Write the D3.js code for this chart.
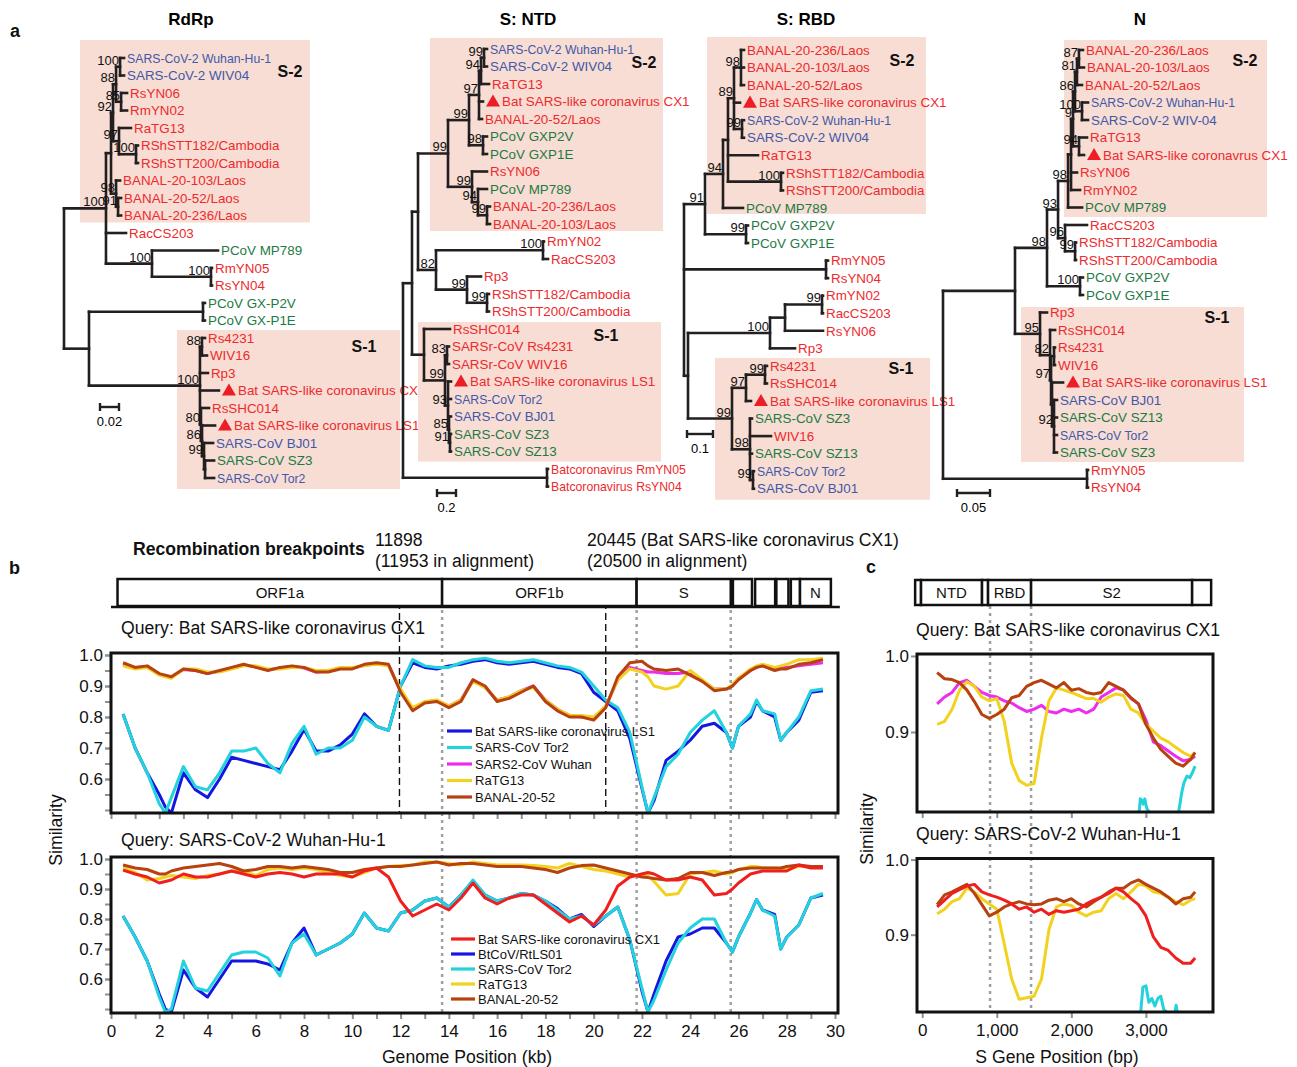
<!DOCTYPE html>
<html>
<head>
<meta charset="utf-8">
<title>Recombination figure</title>
<script src="https://cdn.jsdelivr.net/npm/d3@7"></script>
<style>
  body { margin: 0; background: #ffffff; }
  #fig { display: block; }
</style>
</head>
<body>
<svg id="fig" width="1297" height="1067"></svg>
<script>
/****
 *
 *  a: four ML trees (RdRp, S: NTD, S: RBD, N)
 *  b: whole-genome similarity plots
 *  c: S gene similarity plots
 *
 */

// ---------- tree data (Newick, branch lengths in subst./site) ----------
const rdrpNewick = `
(
 (
  (
   (
    (
     (SARS-CoV-2 Wuhan-Hu-1:0.0042,SARS-CoV-2 WIV04:0.0042)100:0.0042,
     (RsYN06:0.0063,RmYN02:0.0063)85:0.0053
    )88:0.0032,
    (RaTG13:0.0126,(RShSTT182/Cambodia:0.0021,RShSTT200/Cambodia:0.0021)100:0.0179)97:0.0063
   )92:0.0021,
   (BANAL-20-103/Laos:0.0042,(BANAL-20-52/Laos:0.0032,BANAL-20-236/Laos:0.0032)91:0.0021)98:0.0053
  ):0.0053,
  RacCS203:0.0211,
  (PCoV MP789:0.0695,(RmYN05:0.0011,RsYN04:0.0011)100:0.0621)100:0.0484
 )100:0.0442,
 (
  (PCoV GX-P2V:0.0021,PCoV GX-P1E:0.0021):0.12,
  (
   (Rs4231:0.0032,WIV16:0.0053)88:0.0021,
   Rp3:0.0084,
   Bat SARS-like coronavirus CX1:0.02,
   (RsSHC014:0.0084,(Bat SARS-like coronavirus LS1:0.0137,(SARS-CoV BJ01:0.0095,(SARS-CoV SZ3:0.0095,SARS-CoV Tor2:0.0095):0.0011)99:0.0021)86:0.0011)80:0.0011
  )100:0.1168
 ):0.0263
);`;

const ntdNewick = `
(
 (
  (
   (
    (
     (
      ((SARS-CoV-2 Wuhan-Hu-1:0.0316,SARS-CoV-2 WIV04:0.0316)99:0.0316,RaTG13:0.0842)94:0.0211,
      Bat SARS-like coronavirus CX1:0.0421,
      BANAL-20-52/Laos:0.0316
     )97:0.1053,
     (PCoV GXP2V:0.0421,PCoV GXP1E:0.0421)98:0.1474
    )99:0.2211,
    (RsYN06:0.1579,(PCoV MP789:0.0947,(BANAL-20-236/Laos:0.0316,BANAL-20-103/Laos:0.0316)99:0.0947)94:0.0632)99:0.2526
   )99:0.3158,
   (
    (RmYN02:0.0105,RacCS203:0.0526)100:1.1263,
    (Rp3:0.1474,(RShSTT182/Cambodia:0.0211,RShSTT200/Cambodia:0.0211)99:0.2105)99:0.3263
   )82:0.1895
  ):0.0632,
  (
   RsSHC014:0.2737,
   (
    (SARSr-CoV Rs4231:0.0211,SARSr-CoV WIV16:0.0211)83:0.0211,
    (Bat SARS-like coronavirus LS1:0.0316,SARS-CoV Tor2:0.0316,(SARS-CoV BJ01:0.0211,(SARS-CoV SZ3:0.0105,SARS-CoV SZ13:0.0105)91:0.0105)85:0.0105)93:0.0316
   )99:0.2211
  ):0.1263
 ):0.0947,
 (Batcoronavirus RmYN05:0.0105,Batcoronavirus RsYN04:0.0105):1.5158
);`;

const rbdNewick = `
(
 (
  (
   (
    (
     (BANAL-20-236/Laos:0.0115,BANAL-20-103/Laos:0.0115,BANAL-20-52/Laos:0.0115)98:0.0269,
     Bat SARS-like coronavirus CX1:0.0231,
     (SARS-CoV-2 Wuhan-Hu-1:0.0077,SARS-CoV-2 WIV04:0.0077)99:0.0308
    )89:0.0231,
    RaTG13:0.1154,
    (RShSTT182/Cambodia:0.0077,RShSTT200/Cambodia:0.0077)100:0.2038
   ):0.0192,
   PCoV MP789:0.0769
  )94:0.0692,
  (PCoV GXP2V:0.0077,PCoV GXP1E:0.0077)99:0.1577
 )91:0.0808,
 (RmYN05:0.0077,RsYN04:0.0077):0.5462,
 (
  (
   ((RmYN02:0.0038,RacCS203:0.0038)99:0.1423,RsYN06:0.1462):0.0577,
   Rp3:0.0962
  )100:0.3154,
  (
   ((Rs4231:0.0077,RsSHC014:0.0077)99:0.0731,Bat SARS-like coronavirus LS1:0.0192)97:0.0538,
   (SARS-CoV SZ3:0.0077,WIV16:0.0808,SARS-CoV SZ13:0.0077,(SARS-CoV Tor2:0.0038,SARS-CoV BJ01:0.0038)99:0.0115)98:0.0692
  )99:0.1692
 ):0.0154
);`;

const nNewick = `
(
 (
  (
   (
    (
     (
      (
       (
        ((BANAL-20-236/Laos:0.0061,BANAL-20-103/Laos:0.0076)87:0.003,BANAL-20-52/Laos:0.0076)81:0.003,
        (SARS-CoV-2 Wuhan-Hu-1:0.0091,SARS-CoV-2 WIV-04:0.0091)100:0.0106
       )86:0.003,
       (RaTG13:0.0121,Bat SARS-like coronavrus CX1:0.0076)94:0.0091
      )9:0.003,
      RsYN06:0.0091,
      RmYN02:0.0136
     ):0.0045,
     PCoV MP789:0.0212
    )98:0.0152,
    (RacCS203:0.0333,(RShSTT182/Cambodia:0.0015,RShSTT200/Cambodia:0.0015)99:0.0152)96:0.0106
   )93:0.0167,
   (PCoV GXP2V:0.0045,PCoV GXP1E:0.0045)100:0.05
  )98:0.0485,
  (
   Rp3:0.0106,
   (
    RsSHC014:0.0076,
    (
     (Rs4231:0.0015,WIV16:0.0015):0.0045,
     (Bat SARS-like coronavirus LS1:0.0167,(SARS-CoV BJ01:0.0045,SARS-CoV SZ13:0.0045,SARS-CoV Tor2:0.0045,SARS-CoV SZ3:0.0045)92:0.003):0.0015
    )97:0.0015
   )82:0.0152
  )95:0.0379
 ):0.1091,
 (RmYN05:0.0015,RsYN04:0.0015):0.2182
);`;

// taxa colouring
const blueTaxa = ["SARS-CoV-2 Wuhan-Hu-1", "SARS-CoV-2 WIV04", "SARS-CoV-2 WIV-04", "SARS-CoV BJ01", "SARS-CoV Tor2"];
const greenTaxa = ["PCoV MP789", "PCoV GX-P2V", "PCoV GX-P1E", "PCoV GXP2V", "PCoV GXP1E", "SARS-CoV SZ3", "SARS-CoV SZ13"];
const markedTaxa = ["Bat SARS-like coronavirus CX1", "Bat SARS-like coronavrus CX1", "Bat SARS-like coronavirus LS1"];
// labels typeset tighter in the original
const condensedTaxa = ["SARS-CoV-2 Wuhan-Hu-1", "SARS-CoV Tor2", "Batcoronavirus RmYN05", "Batcoronavirus RsYN04"];

// ---------- panel b data (genome position in kb) ----------
const genomePosKb = [
  0.5, 1, 1.5, 2, 2.25, 2.5, 3, 3.5,
  4, 4.5, 5, 5.5, 6, 6.5, 7, 7.5,
  8, 8.5, 9, 9.5, 10, 10.5, 11, 11.5,
  12, 12.5, 13, 13.5, 14, 14.5, 15, 15.5,
  16, 16.5, 17, 17.5, 18, 18.5, 19, 19.5,
  20, 20.5, 21, 21.5, 22, 22.25, 22.5, 23,
  23.5, 24, 24.5, 25, 25.5, 25.75, 26, 26.5,
  26.75, 27, 27.5, 27.75, 28, 28.5, 29, 29.5];

// query: Bat SARS-like coronavirus CX1
const cx1q_LS1 = [
  .81, .70, .62, .55, .51, .49, .62, .565,
  .54, .60, .67, .66, .65, .64, .63, .69,
  .76, .69, .69, .71, .745, .81, .77, .757,
  .90, .975, .96, .955, .965, .97, .98, .985,
  .975, .97, .975, .98, .97, .96, .955, .94,
  .88, .85, .82, .73, .57, .49, .53, .66,
  .69, .725, .77, .78, .75, .70, .77, .80,
  .85, .82, .80, .725, .75, .79, .88, .885];
const cx1q_Tor2 = [
  .81, .70, .62, .52, .49, .54, .64, .575,
  .565, .62, .69, .69, .70, .65, .62, .715,
  .77, .68, .70, .70, .725, .80, .77, .757,
  .90, .985, .965, .96, .96, .975, .985, .99,
  .98, .975, .98, .985, .975, .965, .96, .945,
  .90, .855, .83, .75, .575, .49, .54, .64,
  .68, .75, .79, .82, .75, .70, .77, .81,
  .855, .82, .81, .725, .75, .80, .885, .89];
const cx1q_Wuhan = [
  .97, .96, .962, .938, .932, .928, .953, .95,
  .94, .948, .958, .968, .962, .952, .958, .963,
  .958, .945, .948, .957, .957, .967, .972, .967,
  .885, .825, .848, .853, .835, .855, .92, .895,
  .855, .865, .885, .90, .855, .825, .805, .80,
  .795, .835, .92, .96, .95, .945, .945, .94,
  .94, .945, .915, .89, .89, .90, .925, .95,
  .96, .965, .955, .96, .96, .965, .97, .975];
const cx1q_RaTG13 = [
  .965, .955, .96, .935, .93, .925, .955, .955,
  .945, .945, .955, .965, .965, .955, .955, .96,
  .96, .95, .95, .96, .96, .965, .97, .965,
  .89, .83, .85, .855, .835, .855, .915, .895,
  .855, .865, .885, .895, .855, .825, .805, .805,
  .80, .835, .92, .955, .945, .93, .90, .89,
  .90, .95, .92, .89, .89, .905, .925, .955,
  .965, .97, .96, .965, .97, .985, .985, .99];
const cx1q_BANAL52 = [
  .975, .96, .965, .94, .935, .93, .955, .95,
  .94, .95, .96, .97, .96, .95, .96, .965,
  .96, .945, .945, .955, .955, .97, .975, .97,
  .88, .82, .845, .85, .83, .85, .92, .90,
  .85, .86, .88, .90, .85, .82, .80, .80,
  .79, .83, .93, .975, .98, .965, .955, .95,
  .955, .935, .915, .885, .89, .90, .92, .95,
  .96, .965, .95, .955, .955, .97, .975, .985];

// query: SARS-CoV-2 Wuhan-Hu-1
const wuhq_CX1 = [
  .963, .95, .94, .92, .925, .93, .95, .94,
  .94, .95, .96, .95, .94, .95, .955, .95,
  .94, .95, .95, .95, .94, .96, .97, .94,
  .86, .81, .83, .85, .83, .87, .92, .87,
  .85, .87, .88, .88, .85, .82, .79, .81,
  .78, .83, .91, .94, .95, .955, .95, .93,
  .93, .94, .93, .88, .885, .90, .92, .95,
  .955, .96, .96, .96, .96, .98, .97, .97];
const wuhq_RtLS01 = [
  .81, .74, .66, .55, .50, .49, .63, .57,
  .54, .60, .66, .66, .66, .65, .63, .72,
  .77, .68, .70, .72, .75, .82, .77, .76,
  .82, .83, .86, .87, .84, .88, .925, .88,
  .86, .87, .885, .88, .86, .835, .80, .815,
  .775, .81, .84, .73, .56, .49, .55, .66,
  .74, .75, .77, .77, .72, .69, .74, .82,
  .865, .83, .815, .70, .74, .78, .87, .88];
const wuhq_Tor2 = [
  .81, .74, .66, .54, .49, .50, .66, .57,
  .56, .62, .68, .69, .69, .67, .61, .72,
  .75, .68, .70, .72, .75, .82, .77, .76,
  .82, .83, .86, .87, .84, .88, .93, .88,
  .86, .87, .885, .88, .86, .83, .80, .81,
  .78, .81, .84, .73, .57, .49, .53, .63,
  .72, .77, .80, .80, .72, .69, .74, .82,
  .865, .83, .81, .70, .74, .78, .87, .885];
const wuhq_RaTG13 = [
  .97, .955, .93, .935, .94, .945, .94, .935,
  .945, .95, .96, .96, .945, .965, .97, .965,
  .97, .965, .955, .945, .94, .955, .97, .975,
  .978, .98, .99, .99, .985, .98, .99, .985,
  .98, .98, .98, .978, .975, .97, .985, .975,
  .965, .96, .95, .94, .95, .945, .925, .88,
  .885, .95, .955, .96, .95, .955, .965, .975,
  .975, .97, .97, .968, .965, .975, .975, .975];
const wuhq_BANAL52 = [
  .98, .97, .965, .95, .95, .96, .97, .975,
  .98, .985, .975, .96, .965, .975, .975, .97,
  .975, .97, .965, .955, .955, .965, .97, .975,
  .975, .98, .985, .99, .98, .985, .985, .98,
  .975, .975, .975, .97, .965, .955, .97, .978,
  .98, .97, .96, .95, .94, .938, .935, .93,
  .935, .955, .955, .945, .955, .958, .965, .97,
  .97, .97, .97, .97, .975, .98, .975, .975];

// genome map, breakpoints (alignment positions), region guides
const genomeGenes = ["ORF1a", "ORF1b", "S", "", "", "", "", "N"];
const genomeGeneStart = [0.27, 13.72, 21.78, 25.77, 26.69, 27.57, 28.17, 28.55];
const genomeGeneEnd = [13.72, 21.78, 25.68, 26.56, 27.52, 28.07, 28.55, 29.83];
const breakpointsKb = [11.953, 20.5];
const guideKb = [13.72, 21.78, 25.68];
const genomeTickLabels = [0, 2, 4, 6, 8, 10, 12, 14, 16, 18, 20, 22, 24, 26, 28, 30];
const simTickLabels = [0.6, 0.7, 0.8, 0.9, 1.0];

// ---------- panel c data (S gene position in bp) ----------
const sPosBp = [
  200, 300, 400, 500, 600, 700, 800, 900,
  1000, 1100, 1200, 1300, 1400, 1500, 1600, 1700,
  1800, 1900, 2000, 2100, 2200, 2300, 2400, 2500,
  2600, 2700, 2800, 2900, 3000, 3100, 3200, 3300,
  3400, 3500, 3600, 3660];
const sCx1q_Wuhan = [
  .937, .946, .952, .965, .968, .96, .952, .948,
  .946, .941, .938, .932, .927, .93, .935, .927,
  .925, .93, .927, .93, .925, .93, .946, .952,
  .958, .955, .944, .937, .916, .887, .882, .875,
  .868, .862, .864, .868];
const sCx1q_RaTG13 = [
  .91, .914, .93, .955, .966, .96, .946, .941,
  .944, .914, .859, .836, .83, .832, .892, .941,
  .958, .955, .952, .948, .944, .944, .939, .946,
  .95, .948, .93, .925, .91, .901, .892, .887,
  .88, .873, .868, .873];
const sCx1q_BANAL52 = [
  .978, .97, .969, .965, .955, .94, .923, .918,
  .923, .93, .945, .948, .96, .965, .968, .963,
  .958, .965, .955, .957, .952, .95, .952, .965,
  .96, .955, .945, .937, .91, .892, .877, .868,
  .859, .855, .864, .873];
const sWuhq_CX1 = [
  .937, .946, .955, .96, .965, .967, .957, .953,
  .95, .946, .941, .934, .937, .93, .934, .927,
  .932, .93, .932, .934, .941, .946, .95, .955,
  .962, .957, .948, .94, .925, .897, .883, .879,
  .869, .862, .862, .869];
const sWuhq_RaTG13 = [
  .928, .934, .944, .948, .962, .957, .948, .941,
  .934, .888, .841, .814, .816, .818, .841, .907,
  .937, .941, .939, .93, .925, .93, .932, .948,
  .955, .948, .957, .967, .965, .957, .955, .95,
  .944, .94, .946, .948];
const sWuhq_BANAL52 = [
  .94, .953, .957, .962, .967, .955, .94, .925,
  .93, .937, .941, .944, .941, .94, .941, .946,
  .948, .944, .948, .941, .937, .944, .95, .957,
  .962, .962, .969, .973, .967, .962, .957, .95,
  .941, .948, .95, .957];
// Tor2 only enters the visible range in short stretches (null = off scale)
const sCx1q_Tor2Pos = [2910, 2925, 2945, 2965, 2985, 3010, 3040, 3200, 3440, 3480, 3510, 3550, 3590, 3630, 3660];
const sCx1q_Tor2 = [.795, .812, .81, .805, .812, .80, .795, null, .795, .82, .833, .842, .84, .848, .855];
const sWuhq_Tor2Pos = [2930, 2960, 3000, 3040, 3080, 3120, 3160, 3200, 3240, 3280, 3340, 3390, 3405, 3420];
const sWuhq_Tor2 = [.797, .83, .832, .81, .815, .805, .815, .818, .80, .797, null, .797, .806, .797];

const sDomains = ["", "NTD", "", "RBD", "S2", ""];
const sDomainStart = [-95, -16, 802, 883, 1460, 3620];
const sDomainEnd = [-16, 802, 883, 1460, 3620, 3875];
const guideBp = [910, 1460];
const sTickLabels = [0, 1000, 2000, 3000];
const sSimTickLabels = [0.9, 1.0];

const legendQueryCX1 = ["Bat SARS-like coronavirus LS1", "SARS-CoV Tor2", "SARS2-CoV Wuhan", "RaTG13", "BANAL-20-52"];
const legendQueryWuhan = ["Bat SARS-like coronavirus CX1", "BtCoV/RtLS01", "SARS-CoV Tor2", "RaTG13", "BANAL-20-52"];

// ---------- styles ----------
const FONT = "Arial, 'Liberation Sans', Helvetica, sans-serif";
const INK = "#231f20";
const TAXON_RED = "#ee2a2e", TAXON_BLUE = "#4358a8", TAXON_GREEN = "#1d7a45";
const COL = { ls1: "#1616e2", tor2: "#22d2dc", wuhan: "#ee2cee", ratg13: "#f2d21e", banal: "#b7410f", cx1: "#f01e1e" };
const BIG = 17.6;   // running text in b and c

const svg = d3.select("#fig").attr("font-family", FONT);
svg.append("rect").attr("width", 1297).attr("height", 1067).attr("fill", "#fff");

/**
 * minimal Newick reader: names may contain spaces, '/', '-'
 */
function parseNewick(str){
  let s = str.replace(/\s*\n\s*/g, "");
  let pos = 0;
  function readNode(){
    let node = {};
    if (s[pos] === "("){
      node.children = [];
      pos++;
      node.children.push(readNode());
      while (s[pos] === ","){ pos++; node.children.push(readNode()); }
      pos++; // closing bracket
    }
    let label = "";
    while (pos < s.length && ":,();".indexOf(s[pos]) < 0) label += s[pos++];
    node.name = label;
    node.len = 0;
    if (s[pos] === ":"){
      pos++;
      let num = "";
      while (pos < s.length && ",();".indexOf(s[pos]) < 0) num += s[pos++];
      node.len = +num;
    }
    return node;
  }
  return readNode();
}

function taxonColour(name){
  if (blueTaxa.includes(name)) return TAXON_BLUE;
  if (greenTaxa.includes(name)) return TAXON_GREEN;
  return TAXON_RED;
}

/**
 * rectangular phylogram
 */
function drawTree(cfg){

  let root = d3.hierarchy(parseNewick(cfg.newick));
  root.eachBefore(d => { d.dist = d.parent ? d.parent.dist + d.data.len : 0; });
  let leaves = root.leaves();

  let y = d3.scalePoint()
            .domain(leaves.map(d => d.data.name))
            .range([cfg.y0, cfg.y0 + cfg.step * (leaves.length - 1)]);
  let x = d3.scaleLinear()
            .domain([0, 1])
            .range([cfg.rootX, cfg.rootX + cfg.pxPerUnit]);

  root.eachAfter(d => {
    d.px = x(d.dist);
    d.py = d.children ? (d.children[0].py + d.children[d.children.length - 1].py) / 2
                      : y(d.data.name);
  });

  let g = svg.append("g");

  // shaded clade boxes
  cfg.boxes.forEach(b => {
    let top = y(b.from) - b.padTop, bottom = y(b.to) + b.padBottom;
    g.append("rect")
      .attr("x", b.x0).attr("y", top)
      .attr("width", b.x1 - b.x0).attr("height", bottom - top)
      .attr("fill", "#f7ddd3");
    g.append("text")
      .attr("x", b.lx).attr("y", b.ly)
      .attr("text-anchor", "middle")
      .attr("font-size", 16).attr("font-weight", "bold")
      .attr("fill", "#111")
      .text(b.label);
  });

  // title
  g.append("text")
    .attr("x", cfg.titleX).attr("y", 25)
    .attr("text-anchor", "middle")
    .attr("font-size", 17).attr("font-weight", "bold")
    .text(cfg.title);

  let branches = g.append("g")
                  .attr("stroke", INK)
                  .attr("stroke-width", 2.6)
                  .attr("stroke-linecap", "square");

  // horizontal branches
  branches.selectAll("line.h")
    .data(root.descendants().filter(d => d.parent))
    .join("line")
    .attr("x1", d => d.parent.px).attr("x2", d => d.px)
    .attr("y1", d => d.py).attr("y2", d => d.py);

  // vertical connectors
  branches.selectAll("line.v")
    .data(root.descendants().filter(d => d.children))
    .join("line")
    .attr("x1", d => d.px).attr("x2", d => d.px)
    .attr("y1", d => d.children[0].py)
    .attr("y2", d => d.children[d.children.length - 1].py);

  // bootstrap values
  g.append("g")
    .selectAll("text")
    .data(root.descendants().filter(d => d.children && d.parent && d.data.name !== ""))
    .join("text")
    .attr("x", d => d.px - 1)
    .attr("y", d => d.py - 2)
    .attr("text-anchor", "end")
    .attr("font-size", 13)
    .attr("fill", "#111")
    .text(d => d.data.name);

  // tip labels
  let tips = g.append("g")
              .selectAll("g")
              .data(leaves)
              .join("g")
              .attr("transform", d => "translate(" + d.px + "," + d.py + ")");

  tips.filter(d => markedTaxa.includes(d.data.name))
    .append("path")
    .attr("d", d3.symbol(d3.symbolTriangle, 85))
    .attr("transform", "translate(10,1)")
    .attr("fill", "#ee1c24");

  tips.append("text")
    .attr("x", d => markedTaxa.includes(d.data.name) ? 19 : 3)
    .attr("y", 4.7)
    .attr("font-size", 13.4)
    .attr("fill", d => taxonColour(d.data.name))
    .text(d => d.data.name)
    .filter(d => condensedTaxa.includes(d.data.name))
    .each(function(){
      let w = this.getComputedTextLength();
      d3.select(this).attr("textLength", w * 0.915).attr("lengthAdjust", "spacingAndGlyphs");
    });

  // scale bar
  let sb = cfg.scaleBar;
  let sx = d3.scaleLinear().domain([0, 1]).range([sb.x, sb.x + cfg.pxPerUnit]);
  let bar = g.append("g").attr("stroke", INK).attr("stroke-width", 2.4);
  bar.append("line").attr("x1", sx(0)).attr("x2", sx(sb.value)).attr("y1", sb.y).attr("y2", sb.y);
  bar.append("line").attr("x1", sx(0)).attr("x2", sx(0)).attr("y1", sb.y - 4).attr("y2", sb.y + 4);
  bar.append("line").attr("x1", sx(sb.value)).attr("x2", sx(sb.value)).attr("y1", sb.y - 4).attr("y2", sb.y + 4);
  g.append("text")
    .attr("x", sx(sb.value / 2)).attr("y", sb.y + 19)
    .attr("text-anchor", "middle").attr("font-size", 13)
    .text(sb.value);

} // end of drawTree

/**
 * similarity plot: frame, clipped curves
 */
function drawSimplot(p){

  let g = svg.append("g");
  let f = p.frame;

  g.append("clipPath").attr("id", p.clipId)
    .append("rect")
    .attr("x", f.x0).attr("y", f.y0)
    .attr("width", f.x1 - f.x0).attr("height", f.y1 - f.y0);

  let line = d3.line()
               .defined(d => d.v != null)
               .x(d => p.x(d.pos))
               .y(d => p.y(d.v));

  let curves = g.append("g").attr("clip-path", "url(#" + p.clipId + ")");
  p.series.forEach(s => {
    let pos = s.pos || p.pos;
    curves.append("path")
      .datum(pos.map((q, i) => ({pos: q, v: s.values[i]})))
      .attr("fill", "none")
      .attr("stroke", s.color)
      .attr("stroke-width", 3)
      .attr("stroke-linejoin", "round")
      .attr("d", line);
  });

  // y axis: minor grey ticks, then labelled ticks
  if (p.yMinor){
    let ym = g.append("g")
              .attr("transform", "translate(" + f.x0 + ",0)")
              .call(d3.axisLeft(p.y).tickValues(p.yMinor).tickSize(6).tickFormat(""));
    ym.select(".domain").remove();
    ym.selectAll(".tick line").attr("stroke", "#8f8f8f").attr("stroke-width", 2);
  }
  let ya = g.append("g")
            .attr("transform", "translate(" + f.x0 + ",0)")
            .call(d3.axisLeft(p.y).tickValues(p.yTicks).tickSize(6).tickPadding(2).tickFormat(d3.format(".1f")))
            .attr("font-size", 17).attr("font-family", FONT);
  ya.select(".domain").remove();
  ya.selectAll(".tick line").attr("stroke", "#8f8f8f").attr("stroke-width", 2);
  ya.selectAll(".tick text").attr("fill", "#111");

  // x axis
  let xa = g.append("g")
            .attr("transform", "translate(0," + f.y1 + ")")
            .call(d3.axisBottom(p.x).tickValues(p.xTicks).tickSize(6).tickPadding(6).tickFormat(p.xFormat))
            .attr("font-size", 17).attr("font-family", FONT);
  xa.select(".domain").remove();
  xa.selectAll(".tick line").attr("stroke", "#8f8f8f").attr("stroke-width", 2);
  xa.selectAll(".tick text").attr("fill", "#111");

  // frame
  g.append("rect")
    .attr("x", f.x0).attr("y", f.y0)
    .attr("width", f.x1 - f.x0).attr("height", f.y1 - f.y0)
    .attr("fill", "none").attr("stroke", "#111").attr("stroke-width", 3);

  // query caption
  g.append("text")
    .attr("x", p.caption.x).attr("y", p.caption.y)
    .attr("font-size", BIG).attr("fill", "#111")
    .text(p.caption.text);

} // end of drawSimplot

function drawLegend(names, colours, lg){
  let g = svg.append("g");
  let yy = d3.scalePoint().domain(names).range([lg.y0, lg.y0 + lg.dy * (names.length - 1)]);
  names.forEach((n, i) => {
    g.append("line")
      .attr("x1", lg.x0).attr("x2", lg.x1)
      .attr("y1", yy(n)).attr("y2", yy(n))
      .attr("stroke", colours[i]).attr("stroke-width", 3.2);
    g.append("text")
      .attr("x", lg.x1 + 3).attr("y", yy(n) + 4.5)
      .attr("font-size", 13).attr("fill", "#111")
      .text(n);
  });
}

/*** ****************** *****/
/*   a: phylogenies          */
/***************************/
drawTree({
  newick: rdrpNewick, title: "RdRp", titleX: 191,
  rootX: 64, pxPerUnit: 950, y0: 58, step: 17.5,
  boxes: [
    {from: "SARS-CoV-2 Wuhan-Hu-1", to: "BANAL-20-236/Laos", x0: 80, x1: 310, padTop: 18, padBottom: 7, label: "S-2", lx: 290, ly: 77},
    {from: "Rs4231", to: "SARS-CoV Tor2", x0: 177, x1: 400, padTop: 8, padBottom: 11, label: "S-1", lx: 364, ly: 352}
  ],
  scaleBar: {value: 0.02, x: 100, y: 407}
});

drawTree({
  newick: ntdNewick, title: "S: NTD", titleX: 528,
  rootX: 403, pxPerUnit: 95, y0: 49, step: 17.5,
  boxes: [
    {from: "SARS-CoV-2 Wuhan-Hu-1", to: "BANAL-20-103/Laos", x0: 430, x1: 663, padTop: 11, padBottom: 7, label: "S-2", lx: 644, ly: 68},
    {from: "RsSHC014", to: "SARS-CoV SZ13", x0: 418, x1: 661, padTop: 7, padBottom: 10, label: "S-1", lx: 606, ly: 341}
  ],
  scaleBar: {value: 0.2, x: 437, y: 493}
});

drawTree({
  newick: rbdNewick, title: "S: RBD", titleX: 806,
  rootX: 684, pxPerUnit: 260, y0: 50, step: 17.55,
  boxes: [
    {from: "BANAL-20-236/Laos", to: "PCoV MP789", x0: 707, x1: 926, padTop: 13, padBottom: 6, label: "S-2", lx: 902, ly: 66},
    {from: "Rs4231", to: "SARS-CoV BJ01", x0: 715, x1: 930, padTop: 8, padBottom: 11, label: "S-1", lx: 901, ly: 374}
  ],
  scaleBar: {value: 0.1, x: 687, y: 434}
});

drawTree({
  newick: nNewick, title: "N", titleX: 1140,
  rootX: 943, pxPerUnit: 660, y0: 50, step: 17.5,
  boxes: [
    {from: "BANAL-20-236/Laos", to: "PCoV MP789", x0: 1064, x1: 1267, padTop: 10, padBottom: 9.5, label: "S-2", lx: 1245, ly: 66},
    {from: "Rp3", to: "SARS-CoV SZ3", x0: 1021, x1: 1244, padTop: 5.5, padBottom: 9.5, label: "S-1", lx: 1217, ly: 323}
  ],
  scaleBar: {value: 0.05, x: 957, y: 493}
});

/*** ****************** *****/
/*   b: genome similarity    */
/***************************/
const xGenome = d3.scaleLinear().domain([0, 30]).range([111, 835]);
const yB1 = d3.scaleLinear().domain([0.4903, 1.0065]).range([813, 653]);
const yB2 = d3.scaleLinear().domain([0.4867, 1.0067]).range([1013, 857]);

// region guides (grey dotted) and breakpoints (black dashed)
svg.append("g").selectAll("line")
  .data(guideKb).join("line")
  .attr("x1", d => xGenome(d)).attr("x2", d => xGenome(d))
  .attr("y1", 610).attr("y2", 1013)
  .attr("stroke", "#a0a0a0").attr("stroke-width", 2.5).attr("stroke-dasharray", "3,4");
svg.append("g").selectAll("line")
  .data(breakpointsKb).join("line")
  .attr("x1", d => xGenome(d)).attr("x2", d => xGenome(d))
  .attr("y1", 580).attr("y2", 813)
  .attr("stroke", "#111").attr("stroke-width", 1.4).attr("stroke-dasharray", "7,4");

// genome map
let gmap = svg.append("g");
gmap.append("line")
  .attr("x1", xGenome(0)).attr("x2", xGenome(30.2))
  .attr("y1", 607).attr("y2", 607)
  .attr("stroke", "#111").attr("stroke-width", 2.5);
genomeGenes.forEach((n, i) => {
  gmap.append("rect")
    .attr("x", xGenome(genomeGeneStart[i])).attr("y", 579)
    .attr("width", xGenome(genomeGeneEnd[i]) - xGenome(genomeGeneStart[i])).attr("height", 27)
    .attr("fill", "#fff").attr("stroke", "#111").attr("stroke-width", 2.5);
  if (n) gmap.append("text")
    .attr("x", xGenome((genomeGeneStart[i] + genomeGeneEnd[i]) / 2)).attr("y", 598)
    .attr("text-anchor", "middle").attr("font-size", 15).attr("fill", "#111")
    .text(n);
});

drawSimplot({
  clipId: "clipB1", x: xGenome, y: yB1, pos: genomePosKb,
  frame: {x0: 111, x1: 838, y0: 653, y1: 813},
  series: [
    {values: cx1q_LS1, color: COL.ls1},
    {values: cx1q_Tor2, color: COL.tor2},
    {values: cx1q_Wuhan, color: COL.wuhan},
    {values: cx1q_RaTG13, color: COL.ratg13},
    {values: cx1q_BANAL52, color: COL.banal}
  ],
  yTicks: simTickLabels, yMinor: yB1.ticks(10),
  xTicks: xGenome.ticks(30), xFormat: () => "",
  caption: {x: 121, y: 634, text: "Query: Bat SARS-like coronavirus CX1"}
});

drawSimplot({
  clipId: "clipB2", x: xGenome, y: yB2, pos: genomePosKb,
  frame: {x0: 111, x1: 838, y0: 857, y1: 1013},
  series: [
    {values: wuhq_RtLS01, color: COL.ls1},
    {values: wuhq_Tor2, color: COL.tor2},
    {values: wuhq_RaTG13, color: COL.ratg13},
    {values: wuhq_BANAL52, color: COL.banal},
    {values: wuhq_CX1, color: COL.cx1}
  ],
  yTicks: simTickLabels, yMinor: yB2.ticks(10),
  xTicks: xGenome.ticks(30), xFormat: d => genomeTickLabels.includes(d) ? d : "",
  caption: {x: 121, y: 846, text: "Query: SARS-CoV-2 Wuhan-Hu-1"}
});

drawLegend(legendQueryCX1, [COL.ls1, COL.tor2, COL.wuhan, COL.ratg13, COL.banal], {x0: 447, x1: 472, y0: 731, dy: 16.5});
drawLegend(legendQueryWuhan, [COL.cx1, COL.ls1, COL.tor2, COL.ratg13, COL.banal], {x0: 451, x1: 475, y0: 939, dy: 15});

/*** ****************** *****/
/*   c: S gene similarity    */
/***************************/
const xSgene = d3.scaleLinear().domain([-70, 3900]).range([917, 1213]);
const yC1 = d3.scaleLinear().domain([0.7947, 1.0026]).range([812, 654]);
const yC2 = d3.scaleLinear().domain([0.797, 1.0015]).range([1012, 858.5]);

svg.append("g").selectAll("line")
  .data(guideBp).join("line")
  .attr("x1", d => xSgene(d)).attr("x2", d => xSgene(d))
  .attr("y1", 606).attr("y2", 1012)
  .attr("stroke", "#a0a0a0").attr("stroke-width", 2.5).attr("stroke-dasharray", "3,4");

let smap = svg.append("g");
sDomains.forEach((n, i) => {
  smap.append("rect")
    .attr("x", xSgene(sDomainStart[i])).attr("y", 580)
    .attr("width", xSgene(sDomainEnd[i]) - xSgene(sDomainStart[i])).attr("height", 25)
    .attr("fill", "#fff").attr("stroke", "#111").attr("stroke-width", 2.5);
  if (n) smap.append("text")
    .attr("x", xSgene((sDomainStart[i] + sDomainEnd[i]) / 2)).attr("y", 598)
    .attr("text-anchor", "middle").attr("font-size", 15).attr("fill", "#111")
    .text(n);
});

drawSimplot({
  clipId: "clipC1", x: xSgene, y: yC1, pos: sPosBp,
  frame: {x0: 917, x1: 1213, y0: 654, y1: 812},
  series: [
    {values: sCx1q_Wuhan, color: COL.wuhan},
    {values: sCx1q_RaTG13, color: COL.ratg13},
    {values: sCx1q_BANAL52, color: COL.banal},
    {values: sCx1q_Tor2, pos: sCx1q_Tor2Pos, color: COL.tor2}
  ],
  yTicks: sSimTickLabels,
  xTicks: sTickLabels, xFormat: () => "",
  caption: {x: 916, y: 636, text: "Query: Bat SARS-like coronavirus CX1"}
});

drawSimplot({
  clipId: "clipC2", x: xSgene, y: yC2, pos: sPosBp,
  frame: {x0: 917, x1: 1213, y0: 858.5, y1: 1012},
  series: [
    {values: sWuhq_RaTG13, color: COL.ratg13},
    {values: sWuhq_BANAL52, color: COL.banal},
    {values: sWuhq_CX1, color: COL.cx1},
    {values: sWuhq_Tor2, pos: sWuhq_Tor2Pos, color: COL.tor2}
  ],
  yTicks: sSimTickLabels,
  xTicks: sTickLabels, xFormat: d3.format(","),
  caption: {x: 916, y: 840, text: "Query: SARS-CoV-2 Wuhan-Hu-1"}
});

/*** ****************** *****/
/*   annotations             */
/***************************/
let ann = svg.append("g").attr("fill", "#111");
ann.append("text").attr("x", 10).attr("y", 37).attr("font-size", 18).attr("font-weight", "bold").text("a");
ann.append("text").attr("x", 9).attr("y", 574).attr("font-size", 18).attr("font-weight", "bold").text("b");
ann.append("text").attr("x", 866).attr("y", 573).attr("font-size", 18).attr("font-weight", "bold").text("c");

ann.append("text").attr("x", 133).attr("y", 555).attr("font-size", BIG).attr("font-weight", "bold").text("Recombination breakpoints");
ann.append("text").attr("x", 375).attr("y", 546).attr("font-size", BIG).text("11898");
ann.append("text").attr("x", 375).attr("y", 567).attr("font-size", BIG).text("(11953 in alignment)");
ann.append("text").attr("x", 587).attr("y", 546).attr("font-size", BIG).text("20445 (Bat SARS-like coronavirus CX1)");
ann.append("text").attr("x", 587).attr("y", 567).attr("font-size", BIG).text("(20500 in alignment)");

ann.append("text").attr("transform", "translate(62,830) rotate(-90)")
  .attr("text-anchor", "middle").attr("font-size", BIG).text("Similarity");
ann.append("text").attr("transform", "translate(873,829) rotate(-90)")
  .attr("text-anchor", "middle").attr("font-size", BIG).text("Similarity");
ann.append("text").attr("x", 467).attr("y", 1063).attr("text-anchor", "middle").attr("font-size", BIG).text("Genome Position (kb)");
ann.append("text").attr("x", 1057).attr("y", 1063).attr("text-anchor", "middle").attr("font-size", BIG).text("S Gene Position (bp)");
</script>
</body>
</html>
